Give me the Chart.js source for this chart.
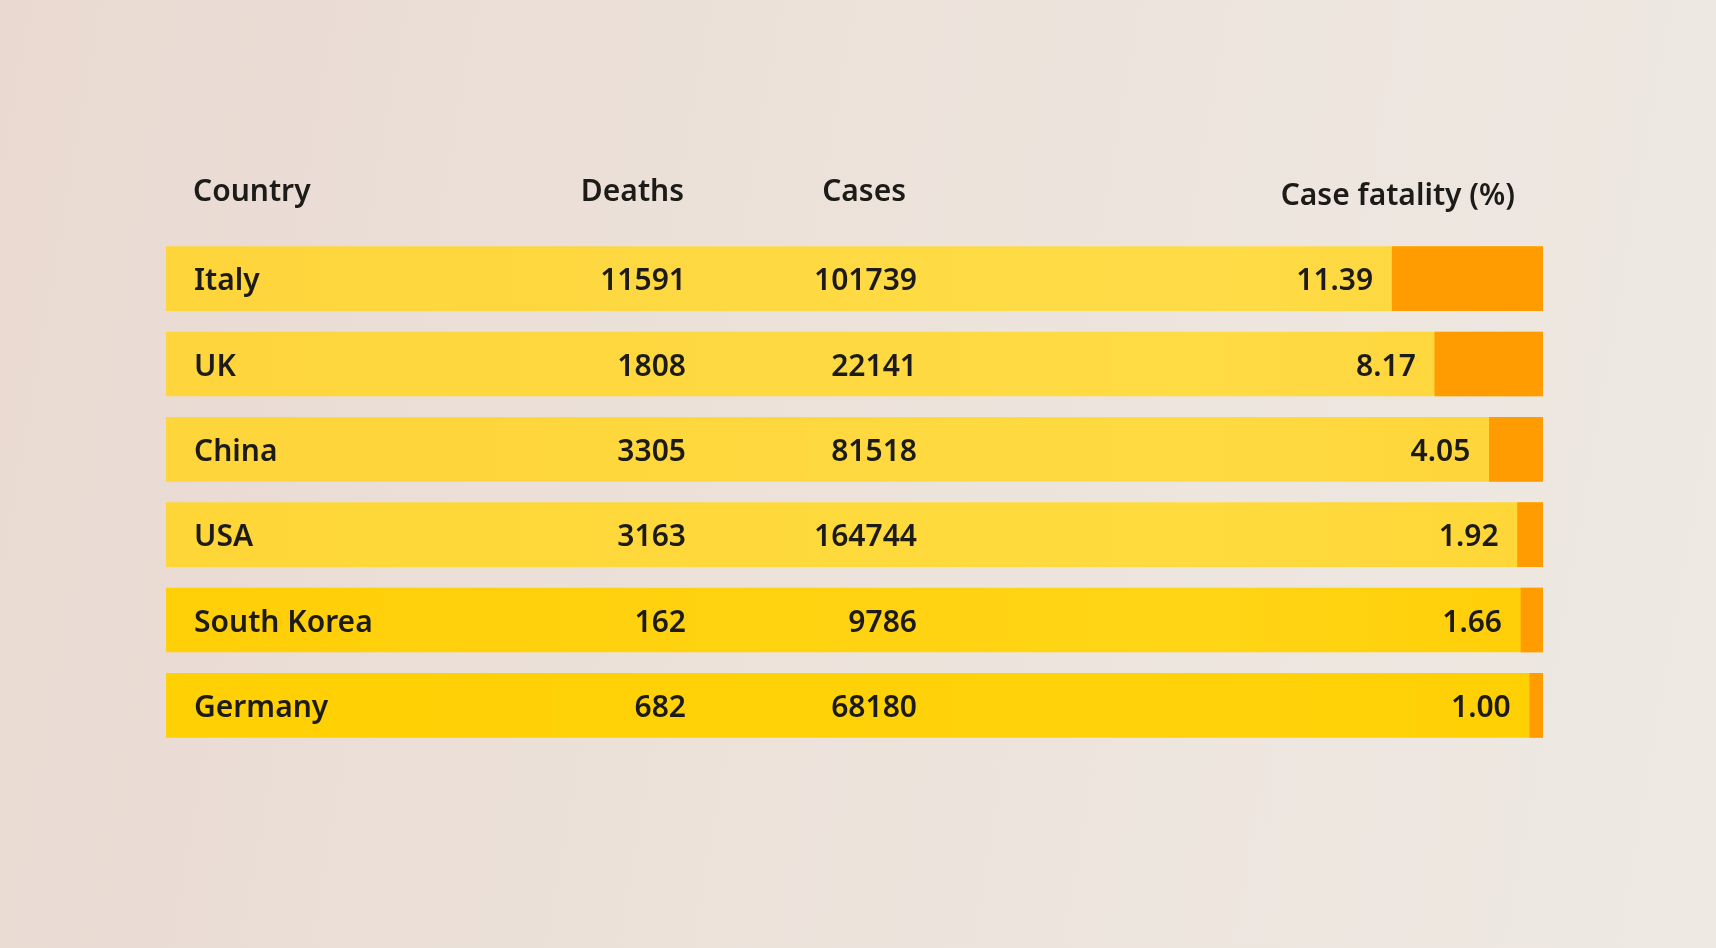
<!DOCTYPE html>
<html>
<head>
<meta charset="utf-8">
<title>Case fatality</title>
<script src="https://cdn.jsdelivr.net/npm/chart.js@4.4.1/dist/chart.umd.min.js"></script>
<style>
    html, body {
        margin: 0;
        padding: 0;
        width: 1716px;
        height: 948px;
        overflow: hidden;
        background: linear-gradient(100deg, #e9d9d1 0%, #ece2da 45%, #eee9e3 100%);
    }
    #chart_wrapper {
        position: relative;
        width: 1716px;
        height: 948px;
    }
</style>
</head>
<body>
<div id="chart_wrapper"><canvas id="chart"></canvas></div>
<script>
/*global Chart*/

var headers = ["Country", "Deaths", "Cases", "Case fatality (%)"];
var countries = ["Italy", "UK", "China", "USA", "South Korea", "Germany"];
var deaths = [11591, 1808, 3305, 3163, 162, 682];
var cases = [101739, 22141, 81518, 164744, 9786, 68180];
var fatality = [11.39, 8.17, 4.05, 1.92, 1.66, 1.00];

// width of the whole row, in percent units of the fatality scale
var scaleMax = 104;

// row colours, a bit warmer towards the bottom as in the print
var yellowLeft = ["#fed53b", "#fed53c", "#fed53a", "#fed637", "#ffcf08", "#ffd003"];
var yellowMid = ["#ffdc47", "#ffdb44", "#ffda41", "#ffdb3e", "#ffd516", "#ffd20a"];
var orange = "#ff9c02";
var ink = "#1d1b18";
var font = "600 30px 'Noto Sans', 'Open Sans', sans-serif";

function rowFill(context) {
    "use strict";
    var chart = context.chart,
        area = chart.chartArea,
        i = context.dataIndex,
        g;
    if (!area) {
        return yellowLeft[i];
    }
    g = chart.ctx.createLinearGradient(area.left, 0, area.right, 0);
    g.addColorStop(0, yellowLeft[i]);
    g.addColorStop(0.75, yellowMid[i]);
    g.addColorStop(1, yellowLeft[i]);
    return g;
}

var tableText = {
    id: "tableText",
    afterDatasetsDraw: function (chart) {
        "use strict";
        var ctx = chart.ctx,
            x = chart.scales.x,
            y = chart.scales.y;

        ctx.save();
        ctx.font = font;
        ctx.fillStyle = ink;
        ctx.textBaseline = "middle";

        ctx.textAlign = "left";
        ctx.fillText(headers[0], 193, 192);
        ctx.textAlign = "right";
        ctx.fillText(headers[1], 684, 192);
        ctx.fillText(headers[2], 906, 192);
        ctx.fillText(headers[3], 1515, 196);

        countries.forEach(function (name, i) {
            var py = y.getPixelForValue(i) + 3;
            ctx.textAlign = "left";
            ctx.fillText(name, 194, py);
            ctx.textAlign = "right";
            ctx.fillText(String(deaths[i]), 686, py);
            ctx.fillText(String(cases[i]), 917, py);
            ctx.fillText(fatality[i].toFixed(2), x.getPixelForValue(fatality[i]) - 19, py);
        });
        ctx.restore();
    }
};

var chartData = {
    labels: countries,
    datasets: [
        {
            label: "Case fatality (%)",
            data: fatality,
            backgroundColor: orange,
            grouped: false,
            barThickness: 64,
            borderWidth: 0
        }, {
            label: "Row",
            data: countries.map(function () { return scaleMax; }),
            backgroundColor: rowFill,
            grouped: false,
            barThickness: 64,
            borderWidth: 0
        }
    ]
};

var options = {
    indexAxis: "y",
    responsive: true,
    maintainAspectRatio: false,
    animation: false,
    layout: {
        padding: {left: 166, right: 173, top: 236, bottom: 200}
    },
    scales: {
        x: {
            display: false,
            reverse: true,
            min: 0,
            max: scaleMax
        },
        y: {
            display: false
        }
    },
    plugins: {
        legend: {display: false},
        tooltip: {enabled: false}
    }
};

window.addEventListener("load", function () {
    "use strict";
    var ctx = document.getElementById("chart").getContext("2d");
    new Chart(ctx, {type: "bar", data: chartData, options: options, plugins: [tableText]});
});
</script>
</body>
</html>
